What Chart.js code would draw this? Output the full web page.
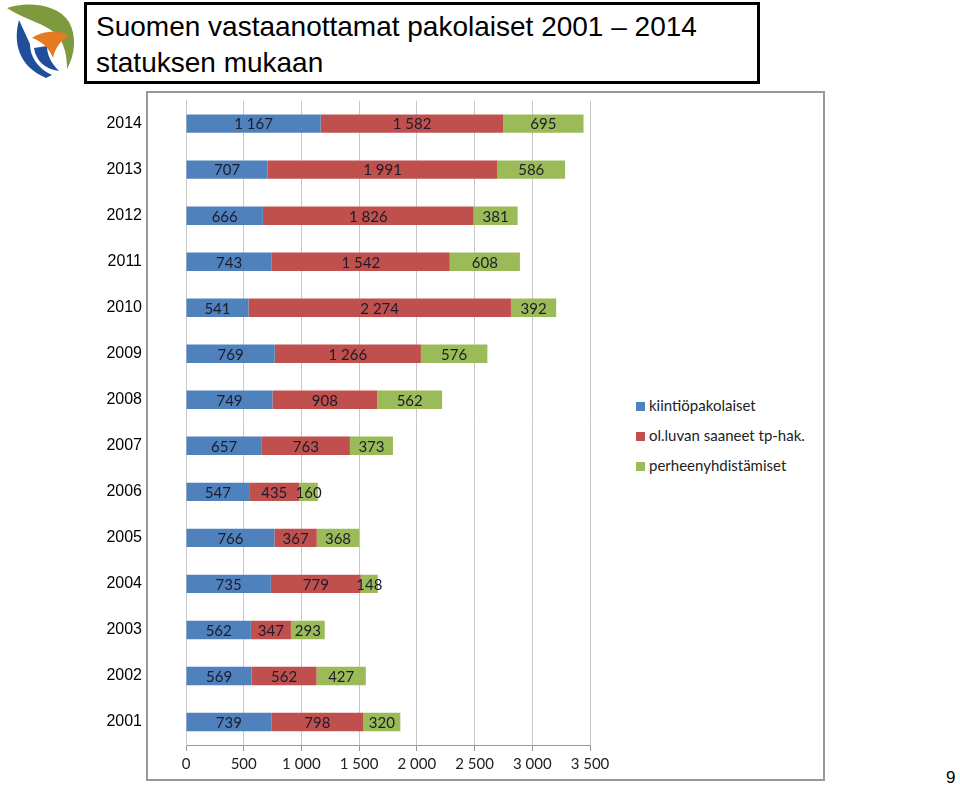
<!DOCTYPE html>
<html>
<head>
<meta charset="utf-8">
<script src="https://cdn.jsdelivr.net/npm/chart.js@4"></script>
<style>
  body { margin: 0; background: #fff; width: 960px; height: 786px; position: relative; overflow: hidden; font-family: "Liberation Sans", Arial, sans-serif; }
  #logo { position: absolute; left: 2px; top: 0px; }
  #titleBox { position: absolute; left: 84px; top: 2px; width: 670px; height: 76px; border: 3px solid #000; }
  #titleBox div { position: absolute; left: 9px; top: 4px; font-size: 28px; line-height: 36px; color: #000; }
  #frame { position: absolute; left: 146px; top: 91px; width: 675px; height: 686px; border: 2px solid #999; }
  #chartWrap { position: absolute; left: 95px; top: 91px; }
  #chartWrap canvas { display: block; }
  #legend { position: absolute; left: 636px; top: 395px; font-family: Lato, sans-serif; font-size: 15px; color: #222; }
  #legend div { height: 30px; line-height: 20px; white-space: nowrap; }
  #legend span { display: inline-block; width: 9px; height: 9px; margin-right: 4px; }
  #pageNo { position: absolute; left: 946px; top: 768px; font-size: 17px; color: #000; }
</style>
</head>
<body>
<svg id="logo" width="80" height="82" viewBox="0 0 80 82">
  <path d="M5,8 C25,1 56,4 67,22 C75,36 73,55 65,69 C65,52 61,38 49,30 C37,22 20,18 5,8 Z" fill="#7d9a3e"/>
  <path d="M17,20 C11,42 16,66 44,78 L50,75 C35,68 28,56 28,44 Z" fill="#1f4f9c"/>
  <path d="M32,48 C34,61 43,69 57,71 C49,63 45,55 45,46 Z" fill="#1f4f9c"/>
  <path d="M30,38 C41,30 58,30 67,36 C59,40 53,48 51,58 C47,48 41,42 30,38 Z" fill="#e57a22"/>
</svg>
<div id="titleBox"><div>Suomen vastaanottamat pakolaiset 2001 – 2014<br>statuksen mukaan</div></div>
<div id="frame"></div>
<div id="chartWrap"><canvas id="refugeeChart" width="535" height="687"></canvas></div>
<div id="legend"></div>
<div id="pageNo">9</div>

<script>
// Data (top row first)
const years = ['2014', '2013', '2012', '2011', '2010', '2009', '2008', '2007', '2006', '2005', '2004', '2003', '2002', '2001'];
const kiintio = [1167, 707, 666, 743, 541, 769, 749, 657, 547, 766, 735, 562, 569, 739];
const olLuvan = [1582, 1991, 1826, 1542, 2274, 1266, 908, 763, 435, 367, 779, 347, 562, 798];
const perhe = [695, 586, 381, 608, 392, 576, 562, 373, 160, 368, 148, 293, 427, 320];
const xTicks = [0, 500, 1000, 1500, 2000, 2500, 3000, 3500];

const seriesNames = ['kiintiöpakolaiset', 'ol.luvan saaneet tp-hak.', 'perheenyhdistämiset'];
const seriesColors = ['#4f81bd', '#c0504d', '#9bbb59'];

// 1167 -> "1 167"
function fmt(v) {
    return String(v).replace(/\B(?=(\d{3})+(?!\d))/g, ' ');
}

// Numbers inside the bar segments
const barLabels = {
    id: 'barLabels',
    afterDatasetsDraw(chart) {
        const ctx = chart.ctx;
        ctx.save();
        ctx.font = '15px Lato';
        ctx.fillStyle = '#1c1c2a';
        ctx.textAlign = 'center';
        ctx.textBaseline = 'middle';
        chart.data.datasets.forEach((ds, i) => {
            chart.getDatasetMeta(i).data.forEach((bar, j) => {
                const p = bar.getCenterPoint();
                ctx.fillText(fmt(ds.data[j]), p.x, p.y + 1);
            });
        });
        ctx.restore();
    }
};

const ctx = document.getElementById('refugeeChart').getContext('2d');
const chart = new Chart(ctx, {
    type: 'bar',
    data: {
        labels: years,
        datasets: [kiintio, olLuvan, perhe].map((d, i) => ({
            label: seriesNames[i],
            data: d,
            backgroundColor: seriesColors[i],
            barPercentage: 0.4,
            categoryPercentage: 1
        }))
    },
    options: {
        indexAxis: 'y',
        responsive: false,
        animation: false,
        layout: { padding: { top: 9, right: 40, bottom: 0, left: 0 } },
        plugins: {
            legend: { display: false },
            tooltip: { enabled: false }
        },
        scales: {
            x: {
                stacked: true,
                min: 0,
                max: 3500,
                afterBuildTicks(scale) {
                    scale.ticks = xTicks.map(v => ({ value: v }));
                },
                afterFit(scale) { scale.height = 33; },
                grid: { color: '#c8c8c8', tickLength: 6, tickColor: '#999' },
                border: { color: '#999' },
                ticks: {
                    padding: 4,
                    color: '#222',
                    font: { family: 'Lato', size: 15 },
                    callback: v => fmt(v)
                }
            },
            y: {
                stacked: true,
                afterFit(scale) { scale.width = 91; },
                grid: { display: false, drawTicks: true, tickLength: 44 },
                border: { color: '#c8c8c8' },
                ticks: {
                    padding: 0,
                    color: '#000',
                    font: { family: 'Liberation Sans', size: 16 }
                }
            }
        }
    },
    plugins: [barLabels]
});

// HTML legend built from the chart's datasets
const legend = document.getElementById('legend');
chart.data.datasets.forEach(ds => {
    const row = document.createElement('div');
    const box = document.createElement('span');
    box.style.background = ds.backgroundColor;
    row.appendChild(box);
    row.appendChild(document.createTextNode(ds.label));
    legend.appendChild(row);
});
</script>
</body>
</html>
